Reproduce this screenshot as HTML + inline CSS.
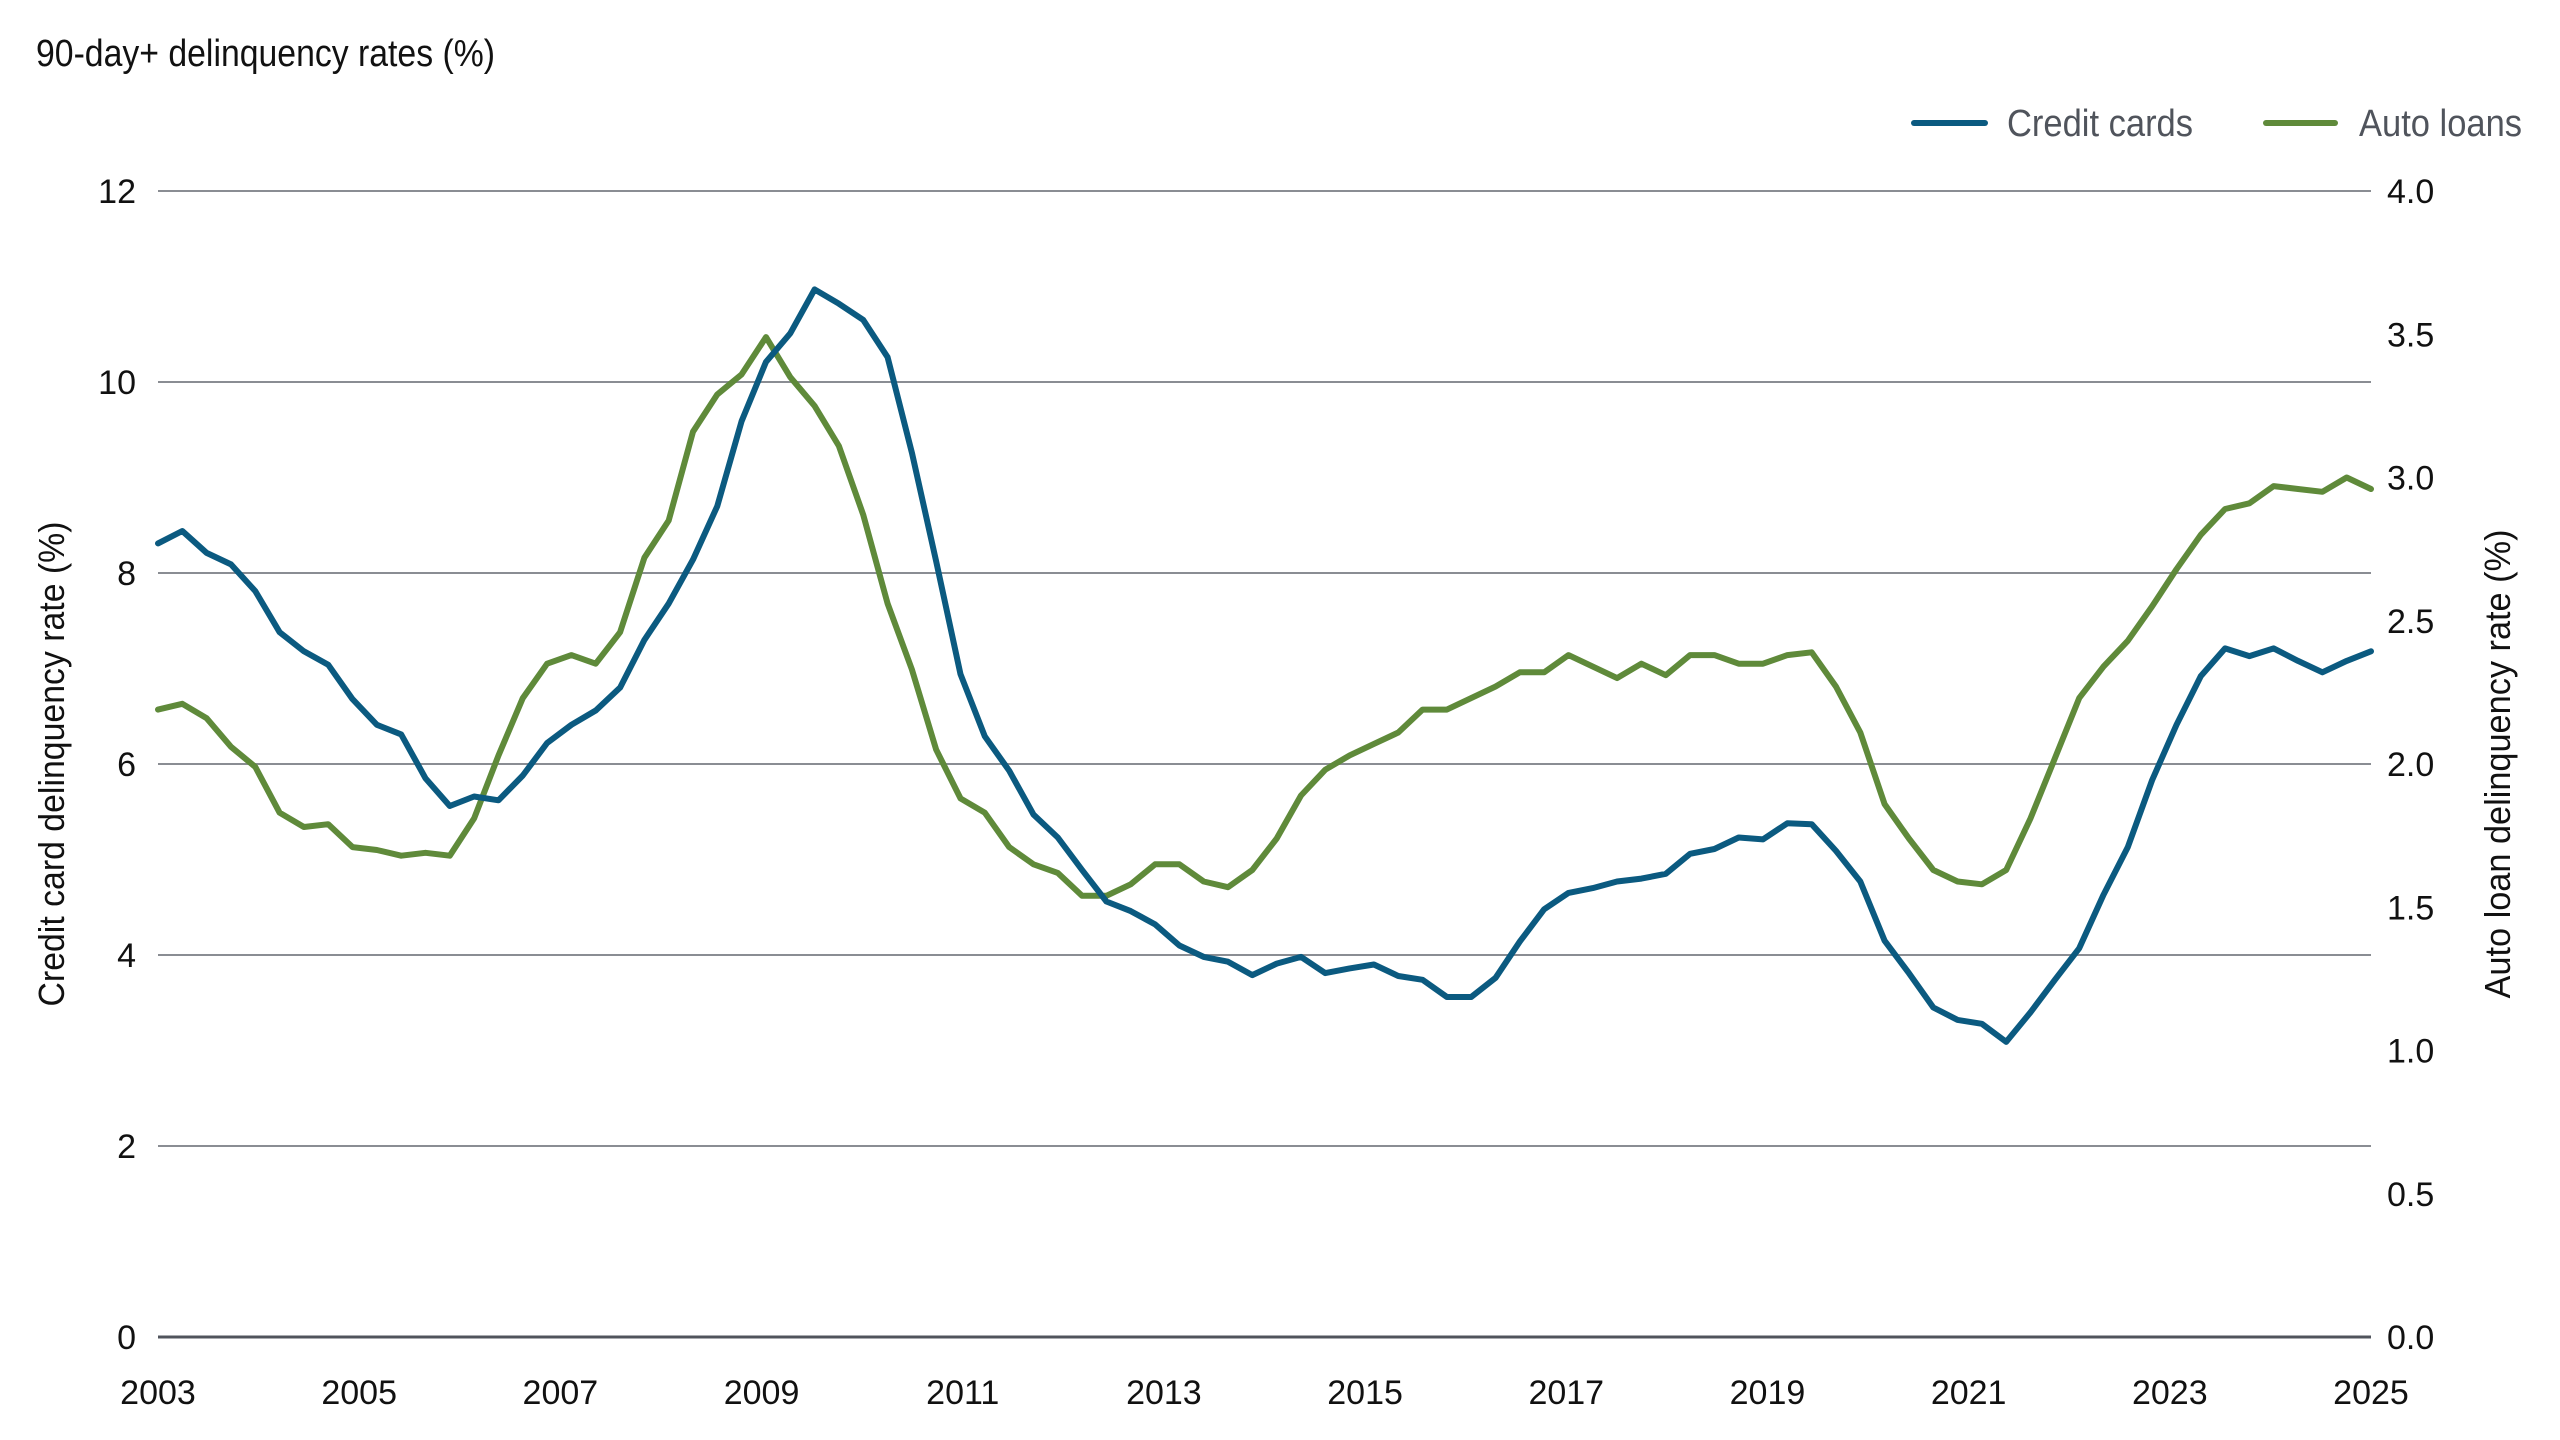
<!DOCTYPE html>
<html><head><meta charset="utf-8"><style>
html,body{margin:0;padding:0;background:#fff;}
svg{display:block;font-family:"Liberation Sans Narrow","Liberation Sans",sans-serif;}
</style></head><body>
<svg id="chart" width="2560" height="1440" viewBox="0 0 2560 1440" xmlns="http://www.w3.org/2000/svg">
<text x="36" y="66" font-size="38" fill="#111" textLength="459" lengthAdjust="spacingAndGlyphs">90-day+ delinquency rates (%)</text>
<g>
 <g>
  <line x1="1914" y1="123" x2="1985" y2="123" stroke="#0b5a80" stroke-width="6" stroke-linecap="round"/>
  <text x="2007" y="136" font-size="38" fill="#50545c" textLength="186" lengthAdjust="spacingAndGlyphs">Credit cards</text>
 </g>
 <g>
  <line x1="2266" y1="123" x2="2335" y2="123" stroke="#5f8a3a" stroke-width="6" stroke-linecap="round"/>
  <text x="2359" y="136" font-size="38" fill="#50545c" textLength="163" lengthAdjust="spacingAndGlyphs">Auto loans</text>
 </g>
</g>
<g id="grid"></g>
<g id="series"></g>
<text transform="translate(64,764) rotate(-90)" text-anchor="middle" font-size="36" fill="#111" textLength="485" lengthAdjust="spacingAndGlyphs">Credit card delinquency rate (%)</text>
<text transform="translate(2510,764) rotate(-90)" text-anchor="middle" font-size="36" fill="#111" textLength="469" lengthAdjust="spacingAndGlyphs">Auto loan delinquency rate (%)</text>
</svg>
<script>
const leftTicks=[0,2,4,6,8,10,12];
const rightTicks=["0.0","0.5","1.0","1.5","2.0","2.5","3.0","3.5","4.0"];
const yearTicks=[2003,2005,2007,2009,2011,2013,2015,2017,2019,2021,2023,2025];
const creditCards=[8.31,8.44,8.21,8.09,7.81,7.38,7.18,7.04,6.68,6.41,6.31,5.85,5.56,5.66,5.62,5.88,6.22,6.41,6.56,6.80,7.30,7.68,8.14,8.70,9.59,10.21,10.51,10.97,10.82,10.65,10.26,9.26,8.12,6.94,6.29,5.93,5.47,5.23,4.89,4.56,4.46,4.32,4.10,3.98,3.93,3.79,3.91,3.98,3.81,3.86,3.90,3.78,3.74,3.56,3.56,3.76,4.14,4.48,4.65,4.70,4.77,4.80,4.85,5.06,5.11,5.23,5.21,5.38,5.37,5.09,4.77,4.15,3.81,3.45,3.32,3.28,3.09,3.40,3.74,4.07,4.63,5.13,5.83,6.41,6.92,7.21,7.13,7.21,7.08,6.96,7.08,7.18];
const autoLoans=[2.19,2.21,2.16,2.06,1.99,1.83,1.78,1.79,1.71,1.70,1.68,1.69,1.68,1.81,2.03,2.23,2.35,2.38,2.35,2.46,2.72,2.85,3.16,3.29,3.36,3.49,3.35,3.25,3.11,2.87,2.56,2.33,2.05,1.88,1.83,1.71,1.65,1.62,1.54,1.54,1.58,1.65,1.65,1.59,1.57,1.63,1.74,1.89,1.98,2.03,2.07,2.11,2.19,2.19,2.23,2.27,2.32,2.32,2.38,2.34,2.30,2.35,2.31,2.38,2.38,2.35,2.35,2.38,2.39,2.27,2.11,1.86,1.74,1.63,1.59,1.58,1.63,1.81,2.02,2.23,2.34,2.43,2.55,2.68,2.80,2.89,2.91,2.97,2.96,2.95,3.00,2.96];

const NS="http://www.w3.org/2000/svg";
const X0=158,X1=2371,Y0=1337,Y1=191;
const xYear=y=>X0+(y-2003)/22*(X1-X0);
const yLeft=v=>Y0-v/12*(Y0-Y1);
const yRight=v=>Y0-v/4*(Y0-Y1);
function mk(tag,attrs,parent){const e=document.createElementNS(NS,tag);for(const k in attrs)e.setAttribute(k,attrs[k]);parent.appendChild(e);return e;}
const grid=document.getElementById('grid');
leftTicks.forEach((t,i)=>{
  const y=yLeft(t);
  const ln=mk('line',{x1:X0,x2:X1,y1:y,y2:y,stroke:t===0?'#50545c':'#8a8d93','stroke-width':t===0?3:2},grid);
  
  
  const tx=mk('text',{x:X0-22,y:y+12,'text-anchor':'end','font-size':34,fill:'#111'},grid);
  tx.textContent=t;
  
  
});
rightTicks.forEach(t=>{
  const y=yRight(parseFloat(t));
  const tx=mk('text',{x:X1+16,y:y+12,'font-size':34,fill:'#111'},grid);
  tx.textContent=t;
  
  
});
yearTicks.forEach(yr=>{
  const tx=mk('text',{x:xYear(yr),y:1404,'text-anchor':'middle','font-size':34,fill:'#111'},grid);
  tx.textContent=yr;
  
  
});
const ser=document.getElementById('series');
function draw(vals,yf,color,name){
  const n=vals.length;
  const pts=vals.map((v,i)=>xYear(2003+i*22/(n-1)).toFixed(1)+','+yf(v).toFixed(1)).join(' ');
  const pl=mk('polyline',{points:pts,fill:'none',stroke:color,'stroke-width':6,'stroke-linejoin':'round','stroke-linecap':'round'},ser);
  
  
}
draw(autoLoans,yRight,'#5f8a3a','auto-loans-line');
draw(creditCards,yLeft,'#0b5a80','credit-cards-line');
</script>
</body></html>
